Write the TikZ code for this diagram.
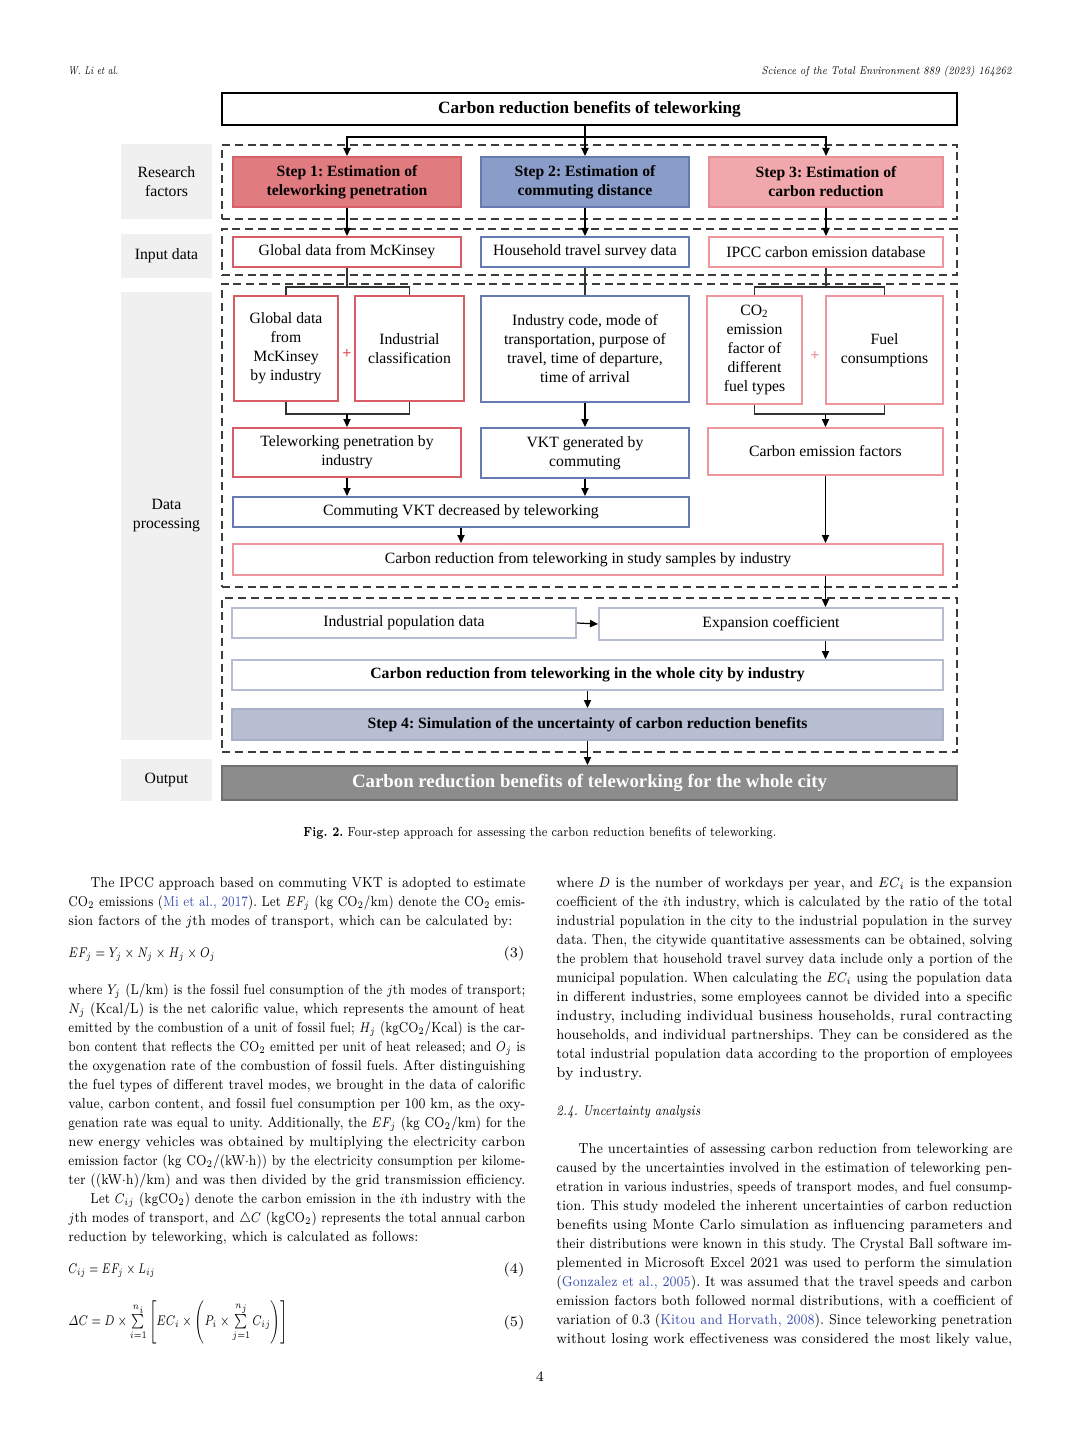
\documentclass[tikz,border=0pt]{standalone}
\usepackage{fontspec}
\usepackage{amsmath}
\usepackage{graphicx}
\usetikzlibrary{arrows.meta}
\newfontfamily\dfont{Liberation Serif}
\definecolor{sonefill}{RGB}{224,124,128}
\definecolor{soneline}{RGB}{214,96,104}
\definecolor{stwofill}{RGB}{138,156,200}
\definecolor{stwoline}{RGB}{102,122,178}
\definecolor{sthreefill}{RGB}{240,168,172}
\definecolor{sthreeline}{RGB}{232,142,148}
\definecolor{redline}{RGB}{215,92,102}
\definecolor{blueline}{RGB}{102,122,180}
\definecolor{pinkline}{RGB}{238,150,156}
\definecolor{grayline}{RGB}{182,188,210}
\definecolor{sfourfill}{RGB}{184,190,210}
\definecolor{sfourline}{RGB}{168,176,200}
\definecolor{outfill}{RGB}{140,140,140}
\definecolor{outline}{RGB}{112,112,112}
\definecolor{labgray}{RGB}{240,240,240}
\definecolor{dashc}{RGB}{60,60,60}
\definecolor{citec}{RGB}{58,78,175}
\definecolor{plusred}{RGB}{224,80,90}
\definecolor{pluspink}{RGB}{238,140,148}
\frenchspacing
\newcommand\dsize{\dfont\fontsize{7.85}{9.5}\selectfont}
\newcommand\bsize{\fontsize{7.2}{8.5}\selectfont}
\newcommand\cit[1]{\textcolor{citec}{#1}}
\newsavebox\jlbox
\newcommand\jl[2]{\sbox\jlbox{#2}\ifdim\wd\jlbox>#1\relax\resizebox{#1}{\height}{\usebox\jlbox}\else\makebox[#1][s]{#2}\fi}
\newcommand\bx[7]{\node[#2, minimum width={(#5-#3)*0.5pt}, minimum height={(#6-#4)*0.5pt}] (#1) at ({(#3+#5)/2},{(#4+#6)/2}) {#7};}
\newcommand\lfl[2]{\node[tl] at (68,#1+4) {\jl{228.5pt}{#2}};}
\newcommand\lil[2]{\node[tl] at (90,#1+4) {\jl{217.5pt}{#2}};}
\newcommand\rfl[2]{\node[tl] at (556,#1+4) {\jl{228pt}{#2}};}
\newcommand\ril[2]{\node[tl] at (578,#1+4) {\jl{217pt}{#2}};}
\tikzset{
  bxs/.style={draw, line width=1pt, inner sep=1pt, align=center, font=\dsize},
  titlebox/.style={bxs, draw=black, line width=0.9pt, font=\dfont\bfseries\fontsize{8.6}{10}\selectfont},
  graylab/.style={fill=labgray, inner sep=1pt, align=center, font=\dsize},
  grp/.style={draw=dashc, line width=0.6pt, dash pattern=on 4pt off 2.4pt, inner sep=0pt},
  sone/.style={bxs, fill=sonefill, draw=soneline, font=\dfont\bfseries\fontsize{7.85}{9.5}\selectfont},
  stwo/.style={bxs, fill=stwofill, draw=stwoline, font=\dfont\bfseries\fontsize{7.85}{9.5}\selectfont},
  sthree/.style={bxs, fill=sthreefill, draw=sthreeline, font=\dfont\bfseries\fontsize{7.85}{9.5}\selectfont},
  redb/.style={bxs, draw=redline, fill=white},
  blueb/.style={bxs, draw=blueline, fill=white},
  pinkb/.style={bxs, draw=pinkline, fill=white},
  grayb/.style={bxs, draw=grayline, fill=white},
  sfour/.style={bxs, fill=sfourfill, draw=sfourline, font=\dfont\bfseries\fontsize{7.85}{9.5}\selectfont},
  outbox/.style={bxs, fill=outfill, draw=outline, text=white, font=\dfont\bfseries\fontsize{9.4}{11}\selectfont},
  arr/.style={draw=black, line width=0.6pt, -{Triangle[length=4pt,width=3.6pt]}},
  conn/.style={draw=black!80, line width=0.6pt},
  tl/.style={anchor=base west, inner sep=0pt, font=\bsize},
  plus/.style={inner sep=0pt, font=\dfont\bfseries\fontsize{8}{9}\selectfont}
}
\begin{document}
\begin{tikzpicture}[x=0.5pt,y=-0.5pt]
\useasboundingbox (0,0) rectangle (1080,1439);
\fill[white] (0,0) rectangle (1080,1439);
% header
\node[anchor=base west, inner sep=0pt, font=\fontsize{5.6}{6}\selectfont\itshape] (hl) at (68,75) {\jl{25pt}{W. Li et al.}};
\node[anchor=base east, inner sep=0pt, font=\fontsize{5.6}{6}\selectfont\itshape] (hr) at (1012,75) {\jl{125pt}{Science of the Total Environment 889 (2023) 164262}};
% left labels
\bx{lrf}{graylab}{121}{144}{212}{219}{Research\\factors}
\bx{lin}{graylab}{121}{234}{212}{278}{Input data}
\bx{ldp}{graylab}{121}{292}{212}{740}{Data\\processing}
\bx{lout}{graylab}{121}{759}{212}{801}{Output}
% dashed groups
\bx{gone}{grp}{222}{145}{957}{219}{}
\bx{gtwo}{grp}{222}{229}{957}{275}{}
\bx{gthree}{grp}{222}{284}{957}{587}{}
\bx{gfour}{grp}{222}{598}{957}{752}{}
% title
\bx{title}{titlebox}{222}{93}{957}{125}{Carbon reduction benefits of teleworking}
% steps
\bx{s1}{sone}{233}{157}{461}{207}{Step 1: Estimation of\\teleworking penetration}
\bx{s2}{stwo}{481}{157}{689}{207}{Step 2: Estimation of\\commuting distance}
\bx{s3}{sthree}{709}{157}{943}{207}{Step 3: Estimation of\\carbon reduction}
% input data
\bx{i1}{redb}{233}{237}{461}{267}{Global data from McKinsey}
\bx{i2}{blueb}{481}{237}{689}{267}{Household travel survey data}
\bx{i3}{pinkb}{709}{237}{943}{267}{IPCC carbon emission database}
% data processing
\bx{d1a}{redb}{234}{296}{338}{401}{Global data\\from\\McKinsey\\by industry}
\bx{d1b}{redb}{355}{296}{464}{401}{Industrial\\classification}
\bx{d2}{blueb}{481}{296}{689}{402}{Industry code, mode of\\transportation, purpose of\\travel, time of departure,\\time of arrival}
\bx{d3a}{pinkb}{707}{296}{802}{404}{CO\textsubscript{2}\\emission\\factor of\\different\\fuel types}
\bx{d3b}{pinkb}{826}{296}{943}{404}{Fuel\\consumptions}
\node[plus, text=plusred] (p1) at (347,354) {+};
\node[plus, text=pluspink] (p2) at (815,356) {+};
\bx{t1}{redb}{233}{428}{461}{477}{Teleworking penetration by\\industry}
\bx{t2}{blueb}{481}{428}{689}{478}{VKT generated by\\commuting}
\bx{t3}{pinkb}{708}{428}{943}{475}{Carbon emission factors}
\bx{cv}{blueb}{233}{497}{689}{527}{Commuting VKT decreased by teleworking}
\bx{cr}{pinkb}{233}{544}{943}{575}{Carbon reduction from teleworking in study samples by industry}
% group 4
\bx{ip}{grayb}{232}{608}{576}{638}{Industrial population data}
\bx{ec}{grayb}{599}{608}{943}{640}{Expansion coefficient}
\bx{wc}{grayb}{232}{660}{943}{690}{\bfseries Carbon reduction from teleworking in the whole city by industry}
\bx{s4}{sfour}{232}{709}{943}{740}{Step 4: Simulation of the uncertainty of carbon reduction benefits}
\bx{out}{outbox}{222}{766}{957}{800}{Carbon reduction benefits of teleworking for the whole city}
% connectors
\draw[arr] (title.south -| s2.north) -- (s2.north);
\path (s2.north) ++(0,-19) coordinate (tj);
\draw[arr] (tj) -| (s1.north);
\draw[arr] (tj) -| (s3.north);
\draw[arr] (s1.south) -- (i1.north);
\draw[arr] (s2.south) -- (i2.north);
\draw[arr] (s3.south) -- (i3.north);
% column 1
\path (d1a.north) ++(0,-8) coordinate (ba);
\draw[conn] (i1.south) -- (i1.south |- ba);
\draw[conn] (d1a.north) -- (ba) -| (d1b.north);
\path (d1a.south) ++(0,12) coordinate (bb);
\draw[conn] (d1a.south) -- (bb) -| (d1b.south);
\draw[arr] (bb -| t1.north) -- (t1.north);
\draw[arr] (t1.south) -- (t1.south |- cv.north);
% column 2
\draw[conn] (i2.south) -- (d2.north);
\draw[arr] (d2.south) -- (t2.north);
\draw[arr] (t2.south) -- (t2.south |- cv.north);
\draw[arr] (cv.south) -- (cv.south |- cr.north);
% column 3
\path (d3a.north) ++(0,-8) coordinate (bc);
\draw[conn] (i3.south) -- (i3.south |- bc);
\draw[conn] (d3a.north) -- (bc) -| (d3b.north);
\path (d3a.south) ++(0,9) coordinate (bd);
\draw[conn] (d3a.south) -- (bd) -| (d3b.south);
\draw[arr] (bd -| t3.north) -- (t3.north);
\draw[arr] (t3.south) -- (t3.south |- cr.north);
\draw[arr] (t3.south |- cr.south) -- (t3.south |- ec.north);
% group 4
\draw[arr] (ip.east) -- (ec.west);
\draw[arr] (t3.south |- ec.south) -- (t3.south |- wc.north);
\draw[arr] (wc.south) -- (wc.south |- s4.north);
\draw[arr] (s4.south) -- (s4.south |- out.north);
% caption
\node[anchor=base, inner sep=0pt, font=\fontsize{6.6}{7}\selectfont] (cap) at (540,836) {\jl{236.5pt}{\textbf{Fig. 2.} Four-step approach for assessing the carbon reduction benefits of teleworking.}};
% left column text
\lil{883}{The IPCC approach based on commuting VKT is adopted to estimate}
\lfl{902}{CO$_2$ emissions (\cit{Mi et al., 2017}). Let $EF_j$ (kg CO$_2$/km) denote the CO$_2$ emis-}
\node[tl] (l3) at (68,925) {\jl{222pt}{sion factors of the $j$th modes of transport, which can be calculated by:}};
\node[tl] (eq3) at (68,957) {\resizebox{73.5pt}{\height}{$EF_j = Y_j \times N_j \times H_j \times O_j$}};
\node[tl, anchor=base east] (n3) at (525,957) {(3)};
\lfl{990}{where $Y_j$ (L/km) is the fossil fuel consumption of the $j$th modes of transport;}
\lfl{1009}{$N_j$ (Kcal/L) is the net calorific value, which represents the amount of heat}
\lfl{1028}{emitted by the combustion of a unit of fossil fuel; $H_j$ (kgCO$_2$/Kcal) is the car-}
\lfl{1047}{bon content that reflects the CO$_2$ emitted per unit of heat released; and $O_j$ is}
\lfl{1066}{the oxygenation rate of the combustion of fossil fuels. After distinguishing}
\lfl{1085}{the fuel types of different travel modes, we brought in the data of calorific}
\lfl{1104}{value, carbon content, and fossil fuel consumption per 100 km, as the oxy-}
\lfl{1123}{genation rate was equal to unity. Additionally, the $EF_j$ (kg CO$_2$/km) for the}
\lfl{1142}{new energy vehicles was obtained by multiplying the electricity carbon}
\lfl{1161}{emission factor (kg CO$_2$/(kW$\cdot$h)) by the electricity consumption per kilome-}
\lfl{1180}{ter ((kW$\cdot$h)/km) and was then divided by the grid transmission efficiency.}
\lil{1199}{Let $C_{ij}$ (kgCO$_2$) denote the carbon emission in the $i$th industry with the}
\lfl{1218}{$j$th modes of transport, and $\triangle C$ (kgCO$_2$) represents the total annual carbon}
\node[tl] (l17) at (68,1241) {\jl{175pt}{reduction by teleworking, which is calculated as follows:}};
\node[tl] (eq4) at (68,1273) {\resizebox{43.5pt}{\height}{$C_{ij} = EF_j \times L_{ij}$}};
\node[tl, anchor=base east] (n4) at (525,1273) {(4)};
\node[tl, anchor=west] (eq5) at (68,1322) {\resizebox{110pt}{\height}{$\varDelta C = D \times \sum\limits_{i=1}^{n_i}\left[EC_i \times \left(P_i \times \sum\limits_{j=1}^{n_j} C_{ij}\right)\right]$}};
\node[tl, anchor=base east] (n5) at (525,1326) {(5)};
% right column text
\rfl{883}{where $D$ is the number of workdays per year, and $EC_i$ is the expansion}
\rfl{902}{coefficient of the $i$th industry, which is calculated by the ratio of the total}
\rfl{921}{industrial population in the city to the industrial population in the survey}
\rfl{940}{data. Then, the citywide quantitative assessments can be obtained, solving}
\rfl{959}{the problem that household travel survey data include only a portion of the}
\rfl{978}{municipal population. When calculating the $EC_i$ using the population data}
\rfl{997}{in different industries, some employees cannot be divided into a specific}
\rfl{1016}{industry, including individual business households, rural contracting}
\rfl{1035}{households, and individual partnerships. They can be considered as the}
\rfl{1054}{total industrial population data according to the proportion of employees}
\node[tl] (r11) at (556,1077) {by industry.};
\node[tl] (sec) at (556,1115) {\jl{72pt}{\itshape 2.4. Uncertainty analysis}};
\ril{1149}{The uncertainties of assessing carbon reduction from teleworking are}
\rfl{1168}{caused by the uncertainties involved in the estimation of teleworking pen-}
\rfl{1187}{etration in various industries, speeds of transport modes, and fuel consump-}
\rfl{1206}{tion. This study modeled the inherent uncertainties of carbon reduction}
\rfl{1225}{benefits using Monte Carlo simulation as influencing parameters and}
\rfl{1244}{their distributions were known in this study. The Crystal Ball software im-}
\rfl{1263}{plemented in Microsoft Excel 2021 was used to perform the simulation}
\rfl{1282}{(\cit{Gonzalez et al., 2005}). It was assumed that the travel speeds and carbon}
\rfl{1301}{emission factors both followed normal distributions, with a coefficient of}
\rfl{1320}{variation of 0.3 (\cit{Kitou and Horvath, 2008}). Since teleworking penetration}
\rfl{1339}{without losing work effectiveness was considered the most likely value,}
\node[tl, anchor=base] (pg) at (540,1381) {4};
\end{tikzpicture}
\end{document}
